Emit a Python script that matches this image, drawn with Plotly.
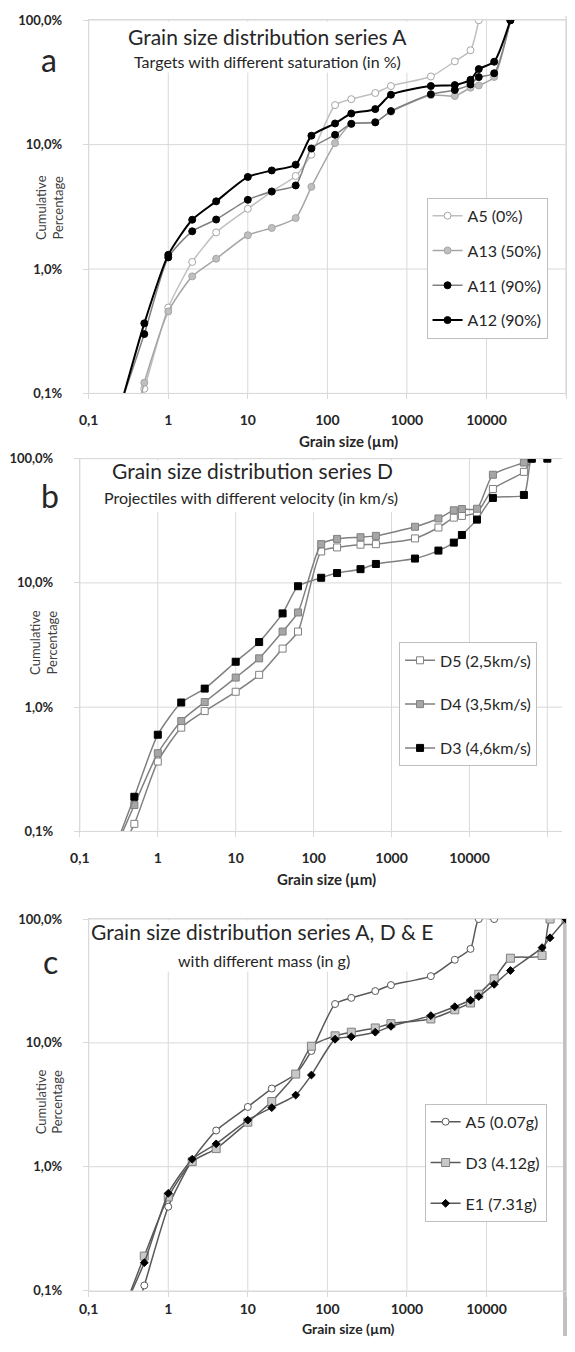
import plotly.graph_objects as go

# The page body keeps its default 8px margin on every side; the figure is sized so
# that it fits inside the 575x1352 window without any overflow. Positions below are
# given in window pixels and converted to paper fractions.
WIN_W, WIN_H, OFF = 575, 1352, 8
W, H = WIN_W - 2 * OFF, WIN_H - 2 * OFF

# ---------------- data ----------------
# Panel a: series A (targets with different saturation)
size_a = [0.25, 0.5, 1, 2, 4, 10, 20, 40, 63, 125, 200, 400, 630, 2000, 4000, 6300, 8000, 12500, 20000]
a5_pct = [0.026, 0.109, 0.49, 1.14, 1.97, 3.05, 4.2, 5.6, 8.3, 20.8, 23.2, 26.0, 29.6, 35.3, 46.7, 57.4, 100]
a13_pct = [0.019, 0.122, 0.456, 0.873, 1.21, 1.87, 2.14, 2.57, 4.58, 10.3, 14.7, 15.2, 18.4, 25.0, 24.6, 28.7, 29.9, 35.0, 100]
a11_pct = [0.08, 0.30, 1.24, 2.01, 2.5, 3.6, 4.2, 4.7, 9.3, 12.0, 14.7, 15.1, 18.6, 25.4, 27.5, 30.5, 34.9, 37.5, 100]
a12_pct = [0.078, 0.366, 1.30, 2.49, 3.5, 5.5, 6.2, 6.9, 11.8, 14.8, 17.8, 19.3, 25.2, 29.6, 30.1, 33.2, 40.5, 46.4, 100]

# Panel b: series D (projectiles with different velocity)
size_b = [0.25, 0.5, 1, 2, 4, 10, 20, 40, 63, 125, 200, 400, 630, 2000, 4000, 6300, 8000, 12500, 20000, 50000, 63000, 100000]
d5_pct = [0.05, 0.115, 0.365, 0.684, 0.93, 1.33, 1.82, 2.96, 4.06, 17.9, 19.3, 20.3, 20.5, 22.8, 27.9, 33.5, 34.6, 36.7, 57.0, 78.3, 100]
d4_pct = [0.06, 0.163, 0.426, 0.773, 1.10, 1.73, 2.47, 4.06, 5.78, 20.5, 22.6, 23.3, 23.9, 28.3, 33.0, 38.4, 39.3, 39.5, 74.2, 93.0, 100]
d3_pct = [0.06, 0.19, 0.60, 1.09, 1.41, 2.32, 3.34, 5.68, 9.4, 11.0, 12.0, 12.9, 14.2, 15.7, 18.2, 21.1, 24.3, 32.3, 48.3, 51.0, 100, 100]

# Panel c: series A, D & E (different mass)
size_c = size_b
c_a5_pct = [0.026, 0.11, 0.475, 1.13, 1.96, 3.04, 4.28, 5.6, 8.6, 20.6, 23.1, 26.2, 29.3, 34.6, 46.9, 57.4, 100, 100]
c_d3_pct = [0.06, 0.19, 0.57, 1.10, 1.40, 2.29, 3.36, 5.6, 9.4, 11.4, 12.2, 13.2, 14.3, 15.6, 18.5, 21.0, 24.7, 32.9, 48.3, 50.8, 100, 100]
c_e1_pct = [0.062, 0.168, 0.61, 1.15, 1.53, 2.38, 3.0, 3.79, 5.5, 10.7, 11.2, 12.2, 13.6, 16.6, 19.6, 22.1, 23.7, 29.7, 38.4, 58.8, 70.6, 100]

x_tickvals = [0.1, 1, 10, 100, 1000, 10000, 100000]
x_ticktext = ["0,1", "1", "10", "100", "1000", "10000", "100000"]
y_tickvals = [0.1, 1, 10, 100]
y_ticktext = ["0,1%", "1,0%", "10,0%", "100,0%"]

FONT = "Lato"
GRID = "#d9d9d9"
TXT = "#262626"


def px(x):
    return (x - OFF) / W


def py(y):
    return 1 - (y - OFF) / H


fig = go.Figure()


def add(x, y, name, xa, ya, legend, line_color, line_width, symbol, msize, mfill, mline, group):
    fig.add_trace(go.Scatter(
        x=x[:len(y)], y=y, name=name, xaxis=xa, yaxis=ya, legend=legend,
        legendgroup=group,
        mode="lines+markers",
        line=dict(color=line_color, width=line_width, shape="spline", smoothing=0.6),
        marker=dict(symbol=symbol, size=msize, color=mfill, line=dict(color=mline, width=1)),
    ))


# panel a
add(size_a, a5_pct, "A5 (0%)", "x", "y", "legend", "#bfbfbf", 1.5, "circle", 7, "white", "#a6a6a6", "a1")
add(size_a, a13_pct, "A13 (50%)", "x", "y", "legend", "#a6a6a6", 1.5, "circle", 7, "#bfbfbf", "#a6a6a6", "a2")
add(size_a, a11_pct, "A11 (90%)", "x", "y", "legend", "#808080", 1.5, "circle", 7, "black", "black", "a3")
add(size_a, a12_pct, "A12 (90%)", "x", "y", "legend", "black", 2, "circle", 7, "black", "black", "a4")

# panel b
add(size_b, d5_pct, "D5 (2,5km/s)", "x2", "y2", "legend2", "#808080", 1.5, "square", 7, "white", "#808080", "b1")
add(size_b, d4_pct, "D4 (3,5km/s)", "x2", "y2", "legend2", "#808080", 1.5, "square", 7, "#a6a6a6", "#808080", "b2")
add(size_b, d3_pct, "D3 (4,6km/s)", "x2", "y2", "legend2", "#808080", 1.5, "square", 7, "black", "black", "b3")

# panel c
add(size_c, c_a5_pct, "A5 (0.07g)", "x3", "y3", "legend3", "#595959", 1.5, "circle", 7, "white", "#595959", "c1")
add(size_c, c_d3_pct, "D3 (4.12g)", "x3", "y3", "legend3", "#595959", 1.5, "square", 8, "#c8c8c8", "#808080", "c2")
add(size_c, c_e1_pct, "E1 (7.31g)", "x3", "y3", "legend3", "#595959", 1.5, "diamond", 6, "black", "black", "c3")

# axes: (suffix, left px, right px, top px, bottom px, x range max, x label standoff)
panels = [
    ("", 80, 566, 12.3, 390, 5, 9),
    ("2", 71, 562, 456, 833.3, 5 + 15 / 79.3, 9),
    ("3", 80, 566, 922, 1298, 5, 1),
]
axis_common = dict(
    type="log", showgrid=False, zeroline=False,
    showline=True, linecolor=GRID, linewidth=1,
    ticks="outside", ticklen=5, tickcolor=GRID,
    ticklabeloverflow="hide past div",
)
layout_axes = {}
shapes = []
for suf, l, r, t, b, xmax, stand in panels:
    layout_axes["xaxis" + suf] = dict(
        axis_common, domain=[px(l), px(r)], range=[-1, xmax], anchor="y" + suf,
        tickvals=x_tickvals, ticktext=x_ticktext, ticklabelstandoff=stand, mirror=True,
        tickfont=dict(family=FONT, size=14, color=TXT, weight="bold"),
    )
    layout_axes["yaxis" + suf] = dict(
        axis_common, domain=[py(b), py(t)], range=[-1, 2], anchor="x" + suf,
        tickvals=y_tickvals, ticktext=y_ticktext, ticklabelstandoff=18,
        mirror=(suf != "2"),
        tickfont=dict(family=FONT, size=13, color=TXT, weight="bold"),
    )
    # grid lines (drawn as shapes so the title boxes can cover them)
    for v in x_tickvals:
        shapes.append(dict(type="line", xref="x" + suf, yref="y%s domain" % suf,
                           x0=v, x1=v, y0=0, y1=1, line=dict(color=GRID, width=1), layer="below"))
    for v in y_tickvals:
        shapes.append(dict(type="line", xref="x%s domain" % suf, yref="y" + suf,
                           x0=0, x1=1, y0=v, y1=v, line=dict(color=GRID, width=1), layer="below"))
fig.update_layout(**layout_axes)

# white boxes behind the titles hiding the grid lines
for suf, (x0, x1, y0, y1) in zip(["", "2", "3"], [(0.062, 0.679, 0.860, 0.996),
                                                   (0.05, 0.68, 0.857, 0.996),
                                                   (0.031, 0.70, 0.859, 0.996)]):
    shapes.append(dict(type="rect", xref="x%s domain" % suf, yref="y%s domain" % suf,
                       x0=x0, x1=x1, y0=y0, y1=y1, fillcolor="white", line=dict(width=0), layer="below"))

# grey strips at the right edge of panels a and c
shapes.append(dict(type="rect", xref="paper", yref="paper", x0=px(563), x1=1, y0=0, y1=py(921),
                   fillcolor="#c0c0c0", line=dict(width=0), layer="below"))
shapes.append(dict(type="rect", xref="paper", yref="paper", x0=px(565), x1=1, y0=py(392), y1=1,
                   fillcolor="#e6e6e6", line=dict(width=0), layer="below"))

# annotations
ann = []


def text(x, y, s, size, bold=False, color=TXT, angle=0):
    ann.append(dict(
        x=px(x), y=py(y), xref="paper", yref="paper", text=s, showarrow=False,
        xanchor="center", yanchor="middle", textangle=angle,
        font=dict(family=FONT, size=size, color=color, weight="bold" if bold else "normal"),
    ))


# panel a
text(262, 29, "Grain size distribution series A", 21)
text(262, 54, "Targets with different saturation (in %)", 16)
text(40, 52, "a", 32)
text(345, 438, "Grain size (µm)", 15, bold=True)
text(40, 202, "Cumulative<br>Percentage", 13, color="#404040", angle=-90)
# panel b
text(247, 468, "Grain size distribution series D", 21)
text(245, 495, "Projectiles with different velocity (in km/s)", 16)
text(41, 493, "b", 32)
text(322, 881, "Grain size (µm)", 15, bold=True)
text(34, 642, "Cumulative<br>Percentage", 13, color="#404040", angle=-90)
# panel c
text(257, 935, "Grain size distribution series A, D & E", 21)
text(258, 964, "with different mass (in g)", 16)
text(41, 965, "c", 32)
text(345, 1336, "Grain size (µm)", 14, bold=True)
text(40, 1107, "Cumulative<br>Percentage", 13, color="#404040", angle=-90)

legend_common = dict(
    bgcolor="white", bordercolor="#bfbfbf", borderwidth=1,
    font=dict(family=FONT, size=16, color=TXT),
    traceorder="grouped", xanchor="left", yanchor="top", itemwidth=30,
)

fig.update_layout(
    width=W, height=H, margin=dict(l=0, r=0, t=0, b=0),
    paper_bgcolor="white", plot_bgcolor="white", showlegend=True,
    annotations=ann, shapes=shapes,
    legend=dict(legend_common, x=px(424), y=py(192), tracegroupgap=11),
    legend2=dict(legend_common, x=px(396), y=py(642), tracegroupgap=20),
    legend3=dict(legend_common, x=px(422), y=py(1109), tracegroupgap=17),
)

fig.write_html("out.html")
